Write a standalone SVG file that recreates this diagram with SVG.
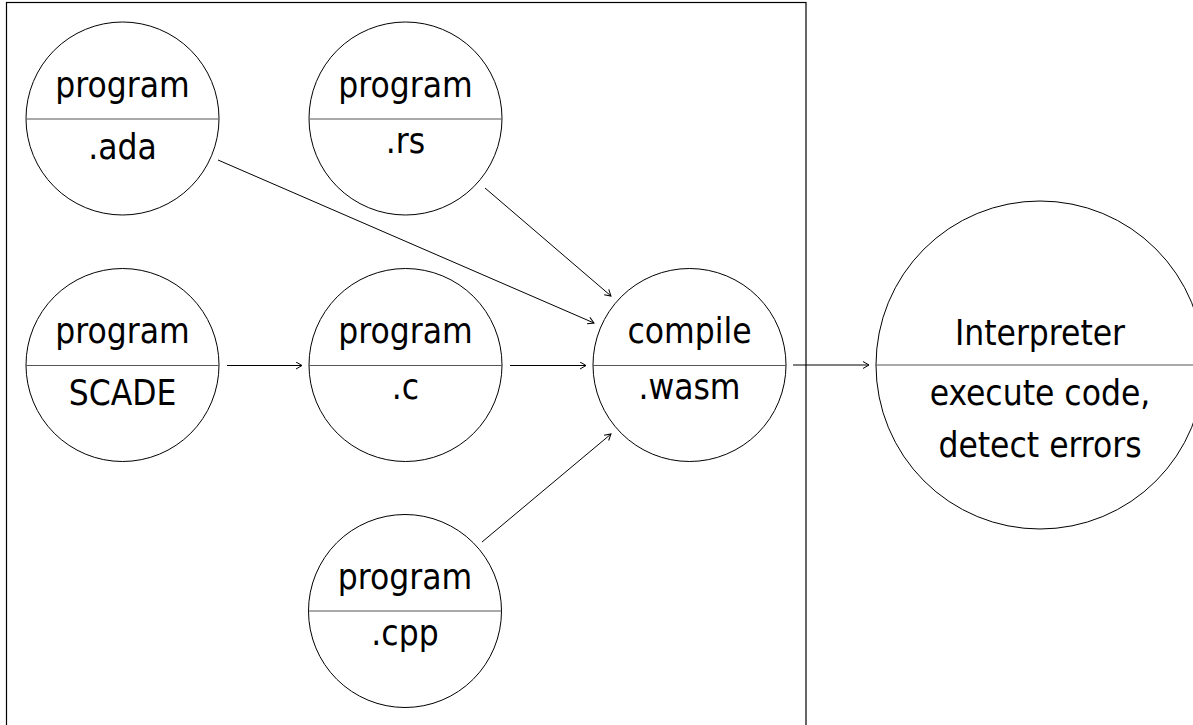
<svg xmlns="http://www.w3.org/2000/svg" width="1193" height="725" viewBox="0 0 1193 725">
<defs>
<style>
.c{fill:#fff;stroke:#000;stroke-width:1}
.d{stroke:#555;stroke-width:1.2}
.t{font-family:"DejaVu Sans Condensed","DejaVu Sans",sans-serif;font-size:35px;fill:#000;text-anchor:middle}
.e{fill:none;stroke:#000;stroke-width:1;marker-end:url(#a)}
</style>
<marker id="a" markerUnits="userSpaceOnUse" markerWidth="10" markerHeight="10" refX="7" refY="4" orient="auto"><path d="M1,0.5 L7,4 L1,7.5" fill="none" stroke="#000" stroke-width="1"/></marker>
</defs>
<rect width="1193" height="725" fill="#fff"/>
<rect x="6.5" y="2.5" width="799.5" height="740" fill="none" stroke="#000" stroke-width="1.2"/>
<g id="n-ada"><circle class="c" cx="122.5" cy="118.5" r="96.5"/><line class="d" x1="26" y1="119" x2="219" y2="119"/><text class="t" x="122.5" y="97">program</text><text class="t" x="122.5" y="158.5">.ada</text></g>
<g id="n-rs"><circle class="c" cx="405.5" cy="118.5" r="96.5"/><line class="d" x1="309" y1="119" x2="502" y2="119"/><text class="t" x="405.5" y="97">program</text><text class="t" x="405.5" y="152.5">.rs</text></g>
<g id="n-scade"><circle class="c" cx="122.5" cy="365" r="96.5"/><line class="d" x1="26" y1="365.5" x2="219" y2="365.5"/><text class="t" x="122.5" y="343">program</text><text class="t" x="122.5" y="405">SCADE</text></g>
<g id="n-c"><circle class="c" cx="405.5" cy="365" r="96.5"/><line class="d" x1="309" y1="365.5" x2="502" y2="365.5"/><text class="t" x="405.5" y="343">program</text><text class="t" x="405.5" y="398.5">.c</text></g>
<g id="n-compile"><circle class="c" cx="689.5" cy="365" r="96.5"/><line class="d" x1="593" y1="365.5" x2="786" y2="365.5"/><text class="t" x="689.5" y="343">compile</text><text class="t" x="689.5" y="399">.wasm</text></g>
<g id="n-cpp"><circle class="c" cx="405" cy="611" r="96.5"/><line class="d" x1="308.5" y1="611" x2="501.5" y2="611"/><text class="t" x="405" y="589">program</text><text class="t" x="405" y="645">.cpp</text></g>
<g id="n-interp"><circle class="c" cx="1040" cy="365" r="164"/><line class="d" x1="876" y1="365" x2="1193" y2="365"/><text class="t" x="1040" y="345">Interpreter</text><text class="t" x="1040" y="404.5">execute code,</text><text class="t" x="1040" y="456.5">detect errors</text></g>
<g id="connectors">
<line class="e" x1="218" y1="160" x2="594" y2="323"/>
<line class="e" x1="485" y1="188" x2="611" y2="296"/>
<line class="e" x1="227" y1="365.5" x2="302" y2="365.5"/>
<line class="e" x1="510" y1="365.5" x2="586" y2="365.5"/>
<line class="e" x1="482" y1="542" x2="611" y2="434"/>
<line class="e" x1="793" y1="365" x2="869" y2="365"/>
</g>
</svg>
